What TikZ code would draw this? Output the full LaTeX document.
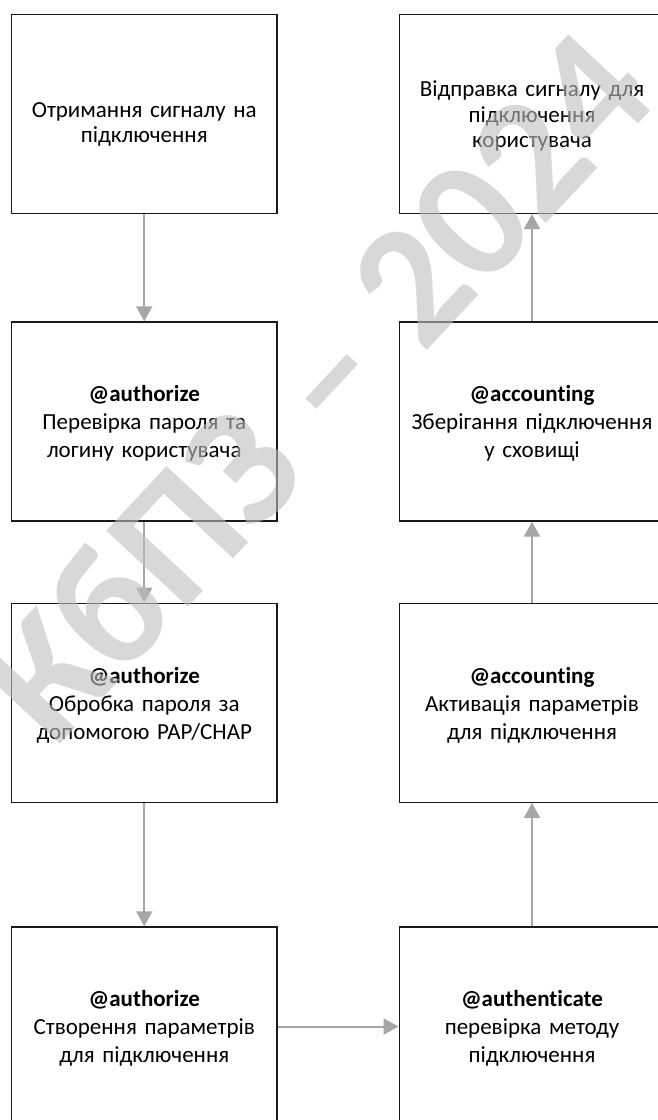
\documentclass[tikz,border=0pt]{standalone}
\usepackage{fontspec}
\setmainfont{Carlito}[Ligatures=NoCommon]
\usetikzlibrary{arrows.meta}
\definecolor{flowgray}{HTML}{A6A6A6}
\definecolor{markgray}{HTML}{BFBFBF}
\begin{document}
\begin{tikzpicture}[x=1pt,y=-1pt,
  stepbox/.style={draw=black!90, line width=1.4pt, rectangle,
    minimum width=265.5pt, minimum height=199pt, inner sep=0pt},
  steptext/.style={anchor=base, text width=262pt, align=center, inner sep=0pt,
    font=\fontsize{23}{28}\selectfont},
  toptext/.style={steptext, font=\fontsize{23}{25.5}\selectfont},
  flow/.style={draw=flowgray, line width=2pt,
    -{Triangle[length=15pt,width=16pt]}},
  watermark/.style={text=markgray, opacity=0.6, inner sep=0pt,
    font=\bfseries\fontsize{172}{172}\selectfont}]
\useasboundingbox (0,0) rectangle (658,1120);
\clip (0,0) rectangle (658,1120);
\fill[white] (0,0) rectangle (658,1120);

% left column
\node[stepbox] (l1) at (144.25,114) {};
\node[stepbox] (l2) at (144.25,421.5) {};
\node[stepbox] (l3) at (144.25,702.75) {};
\node[stepbox] (l4) at (144.25,1026.5) {};
% right column
\node[stepbox] (r1) at (532,114) {};
\node[stepbox] (r2) at (532,421.5) {};
\node[stepbox] (r3) at (532,702.75) {};
\node[stepbox] (r4) at (532,1026.5) {};

% box captions
\node[toptext] (tl1) at (144.25,117.3) {Отримання сигналу на\\підключення};
\node[steptext] (tl2) at (144.25,401.7) {\textbf{@authorize}\\Перевірка пароля та\\логину користувача};
\node[steptext] (tl3) at (144.25,683.3) {\textbf{@authorize}\\Обробка пароля за\\допомогою PAP/CHAP};
\node[steptext] (tl4) at (144.25,1006) {\textbf{@authorize}\\Створення параметрів\\для підключення};
\node[toptext] (tr1) at (532,96.7) {Відправка сигналу для\\підключення\\користувача};
\node[steptext] (tr2) at (532,401.7) {\textbf{@accounting}\\Зберігання підключення\\у сховищі};
\node[steptext] (tr3) at (532,683.3) {\textbf{@accounting}\\Активація параметрів\\для підключення};
\node[steptext] (tr4) at (532,1006) {\textbf{@authenticate}\\перевірка методу\\підключення};

% connectors
\draw[flow] (l1.south) -- (l2.north);
\draw[flow] (l2.south) -- (l3.north);
\draw[flow] (l3.south) -- (l4.north);
\draw[flow] (l4.east) -- (r4.west);
\draw[flow] (r4.north) -- (r3.south);
\draw[flow] (r3.north) -- (r2.south);
\draw[flow] (r2.north) -- (r1.south);

% diagonal watermark over the chart
\node[watermark, rotate=47] (wm) at (315,385) {КбПЗ – 2024};
\end{tikzpicture}
\end{document}
